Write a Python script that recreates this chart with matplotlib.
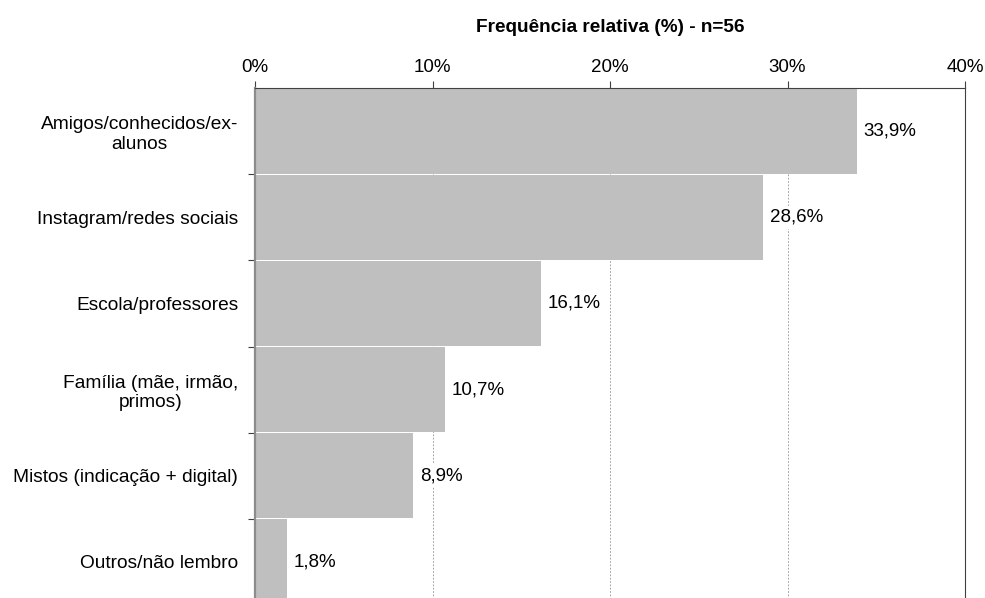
import matplotlib
matplotlib.use('Agg')
import matplotlib.pyplot as plt
from matplotlib.ticker import FuncFormatter

plt.rcParams['font.family'] = ['Liberation Sans', 'DejaVu Sans']

categorias = ['Amigos/conhecidos/ex-\nalunos', 'Instagram/redes sociais', 'Escola/professores',
              'Família (mãe, irmão,\nprimos)', 'Mistos (indicação + digital)', 'Outros/não lembro']
freq = [33.9, 28.6, 16.1, 10.7, 8.9, 1.8]
rotulos = ['33,9%', '28,6%', '16,1%', '10,7%', '8,9%', '1,8%']
xticks = [0, 10, 20, 30, 40]

fig = plt.figure(figsize=(9.85, 5.98), dpi=100)
ax = fig.add_axes([255/985, 1 - 605/598, 710/985, 517/598])

y = list(range(len(categorias)))
ax.barh(y, freq, height=0.985, color='#bfbfbf', zorder=2)
ax.set_ylim(len(categorias) - 0.5, -0.5)
ax.set_xlim(0, 40)

# eixo x no topo
ax.xaxis.tick_top()
ax.xaxis.set_label_position('top')
ax.set_xticks(xticks)
ax.xaxis.set_major_formatter(FuncFormatter(lambda v, p: f'{v:.0f}%'))
ax.tick_params(axis='x', length=5, width=0.8, color='#404040', labelsize=13.5, pad=4)
ax.set_xlabel('Frequência relativa (%) - n=56', fontsize=13.7, fontweight='bold', labelpad=19)
ax.grid(axis='x', color='#909090', linestyle=(0, (2, 2)), linewidth=0.6, zorder=1)

# rótulos das categorias entre marcas nas divisas
ax.set_yticks(y)
ax.set_yticklabels(categorias, fontsize=13.75, multialignment='center')
ax.tick_params(axis='y', length=0, pad=12)
ax.set_yticks([i + 0.5 for i in y[:-1]], minor=True)
ax.tick_params(axis='y', which='minor', length=5, width=0.8, color='#404040')

ax.spines['bottom'].set_visible(False)
ax.spines['top'].set_color('#404040')
ax.spines['top'].set_linewidth(0.8)
ax.spines['right'].set_color('#404040')
ax.spines['right'].set_linewidth(0.8)
ax.spines['left'].set_color('#8c8c8c')
ax.spines['left'].set_linewidth(1.6)

for yi, v, r in zip(y, freq, rotulos):
    ax.text(v + 0.4, yi, r, va='center', ha='left', fontsize=13.5,
            bbox=dict(facecolor='white', edgecolor='none', pad=2), zorder=3)

fig.savefig('out.png', dpi=100)
